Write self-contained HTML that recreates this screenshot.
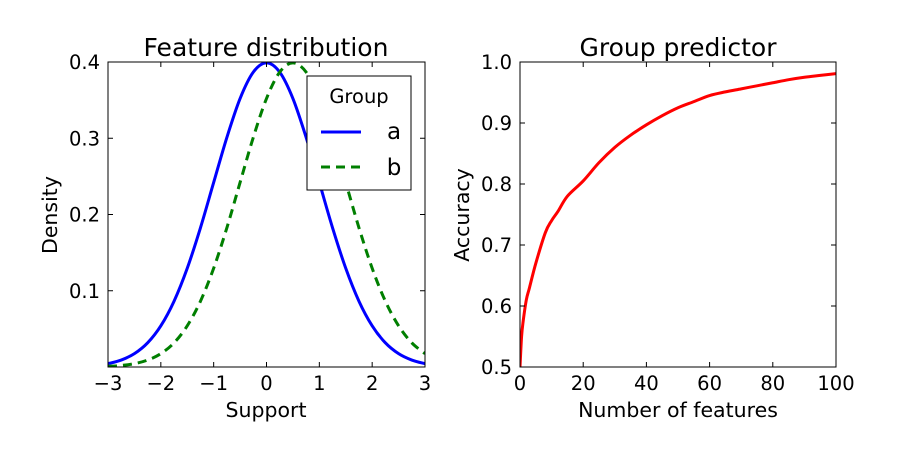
<!DOCTYPE html>
<html><head><meta charset="utf-8"><style>
body{margin:0;background:#fff}
svg{display:block;font-family:"DejaVu Sans","Liberation Sans",sans-serif}
</style></head><body>
<svg id="c" width="924" height="452" viewBox="0 0 924 452"></svg>
<script>
// Left chart data: x support and density values
const supportX = [-3,-2.75,-2.5,-2.25,-2,-1.75,-1.5,-1.25,-1,-0.75,-0.5,-0.25,0,0.25,0.5,0.75,1,1.25,1.5,1.75,2,2.25,2.5,2.75,3];
const densityA = [0.0044,0.0091,0.0175,0.0317,0.0540,0.0863,0.1295,0.1826,0.2420,0.3011,0.3521,0.3867,0.3989,0.3867,0.3521,0.3011,0.2420,0.1826,0.1295,0.0863,0.0540,0.0317,0.0175,0.0091,0.0044];
const densityB = [0.0009,0.0020,0.0044,0.0091,0.0175,0.0317,0.0540,0.0863,0.1295,0.1826,0.2420,0.3011,0.3521,0.3867,0.3989,0.3867,0.3521,0.3011,0.2420,0.1826,0.1295,0.0863,0.0540,0.0317,0.0175];
const leftXTicks = [-3,-2,-1,0,1,2,3];
const leftYTicks = [0.1,0.2,0.3,0.4];
// Right chart data
const featureCounts = [0,0.5,1,2,3,5,8,10,12,15,20,25,30,35,40,45,50,55,60,65,70,75,80,85,90,95,100];
const accuracy = [0.5,0.55,0.575,0.61,0.63,0.67,0.72,0.74,0.755,0.78,0.805,0.835,0.86,0.88,0.897,0.912,0.925,0.935,0.945,0.951,0.956,0.961,0.966,0.971,0.975,0.978,0.981];
const rightXTicks = [0,20,40,60,80,100];
const rightYTicks = [0.5,0.6,0.7,0.8,0.9,1.0];

const NS="http://www.w3.org/2000/svg";
const svg=document.getElementById('c');
function mk(tag,attrs,parent){const e=document.createElementNS(NS,tag);for(const k in attrs)e.setAttribute(k,attrs[k]);(parent||svg).appendChild(e);return e;}
function txt(s,attrs){const t=mk('text',attrs);t.textContent=s;return t;}

const L={x0:108,x1:425,y0:367,y1:62,xmin:-3,xmax:3,ymin:0,ymax:0.4};
const R={x0:520,x1:836,y0:367,y1:62,xmin:0,xmax:100,ymin:0.5,ymax:1.0};
function sx(a,v){return a.x0+(v-a.xmin)/(a.xmax-a.xmin)*(a.x1-a.x0);}
function sy(a,v){return a.y0-(v-a.ymin)/(a.ymax-a.ymin)*(a.y0-a.y1);}

function clip(id,a){const cp=mk('clipPath',{id:id});mk('rect',{x:a.x0,y:a.y1,width:a.x1-a.x0,height:a.y0-a.y1},cp);}
clip('cl',L);clip('cr',R);

function path(a,xs,ys,attrs,name,smooth){
  const P=xs.map((x,i)=>[sx(a,x),sy(a,ys[i])]);
  let d='M'+P[0][0].toFixed(2)+','+P[0][1].toFixed(2);
  for(let i=0;i<P.length-1;i++){
    if(!smooth){d+='L'+P[i+1][0].toFixed(2)+','+P[i+1][1].toFixed(2);continue;}
    const p0=P[Math.max(0,i-1)],p1=P[i],p2=P[i+1],p3=P[Math.min(P.length-1,i+2)];
    const c1=[p1[0]+(p2[0]-p0[0])/6,p1[1]+(p2[1]-p0[1])/6];
    const c2=[p2[0]-(p3[0]-p1[0])/6,p2[1]-(p3[1]-p1[1])/6];
    d+='C'+c1.map(v=>v.toFixed(2)).join(',')+' '+c2.map(v=>v.toFixed(2)).join(',')+' '+p2.map(v=>v.toFixed(2)).join(',');
  }
  const p=mk('path',Object.assign({d:d,fill:'none'},attrs));
  
  
  return p;
}
function axes(a,xt,yt,xfmt,yfmt,name){
  const f=mk('rect',{x:a.x0,y:a.y1,width:a.x1-a.x0,height:a.y0-a.y1,fill:'none',stroke:'#000','stroke-width':1});
  
  
  xt.forEach(v=>{const x=sx(a,v);
    mk('line',{x1:x,x2:x,y1:a.y0,y2:a.y0-5,stroke:'#000'});
    mk('line',{x1:x,x2:x,y1:a.y1,y2:a.y1+5,stroke:'#000'});
    const t=txt(xfmt(v),{x:x,y:a.y0+23,'text-anchor':'middle','font-size':19.5});
    
    
  });
  yt.forEach(v=>{const y=sy(a,v);
    mk('line',{x1:a.x0,x2:a.x0+5,y1:y,y2:y,stroke:'#000'});
    mk('line',{x1:a.x1,x2:a.x1-5,y1:y,y2:y,stroke:'#000'});
    const t=txt(yfmt(v),{x:a.x0-8,y:y+7,'text-anchor':'end','font-size':19.5});
    
    
  });
}
path(L,supportX,densityA,{stroke:'#0000ff','stroke-width':3,'clip-path':'url(#cl)'},'series-a-line',true);
path(L,supportX,densityB,{stroke:'#007f00','stroke-width':3,'stroke-dasharray':'9,6','clip-path':'url(#cl)'},'series-b-line',true);
axes(L,leftXTicks,leftYTicks,v=>v<0?'\u2212'+Math.abs(v):String(v),v=>v.toFixed(1),'left');
path(R,featureCounts,accuracy,{stroke:'#ff0000','stroke-width':3,'clip-path':'url(#cr)'},'accuracy-line',true);
axes(R,rightXTicks,rightYTicks,v=>String(v),v=>v.toFixed(1),'right');

let t;
t=txt('Feature distribution',{x:266,y:56,'text-anchor':'middle','font-size':25});

t=txt('Group predictor',{x:678,y:56,'text-anchor':'middle','font-size':25});

t=txt('Support',{x:266,y:417,'text-anchor':'middle','font-size':20.5});

t=txt('Number of features',{x:678,y:417,'text-anchor':'middle','font-size':20.5});

t=txt('Density',{x:0,y:0,'text-anchor':'middle','font-size':20.5,transform:'translate(57,215) rotate(-90)'});

t=txt('Accuracy',{x:0,y:0,'text-anchor':'middle','font-size':20.5,transform:'translate(469,215) rotate(-90)'});


const lg=mk('rect',{x:307,y:76,width:104,height:114,fill:'#fff',stroke:'#000'});

t=txt('Group',{x:359,y:103,'text-anchor':'middle','font-size':19.5});

let l=mk('line',{x1:321,x2:361,y1:132,y2:132,stroke:'#0000ff','stroke-width':3});

t=txt('a',{x:394,y:139,'text-anchor':'middle','font-size':23});

l=mk('line',{x1:321,x2:361,y1:167,y2:167,stroke:'#007f00','stroke-width':3,'stroke-dasharray':'9,6'});

t=txt('b',{x:394,y:175,'text-anchor':'middle','font-size':23});

</script>
</body></html>
